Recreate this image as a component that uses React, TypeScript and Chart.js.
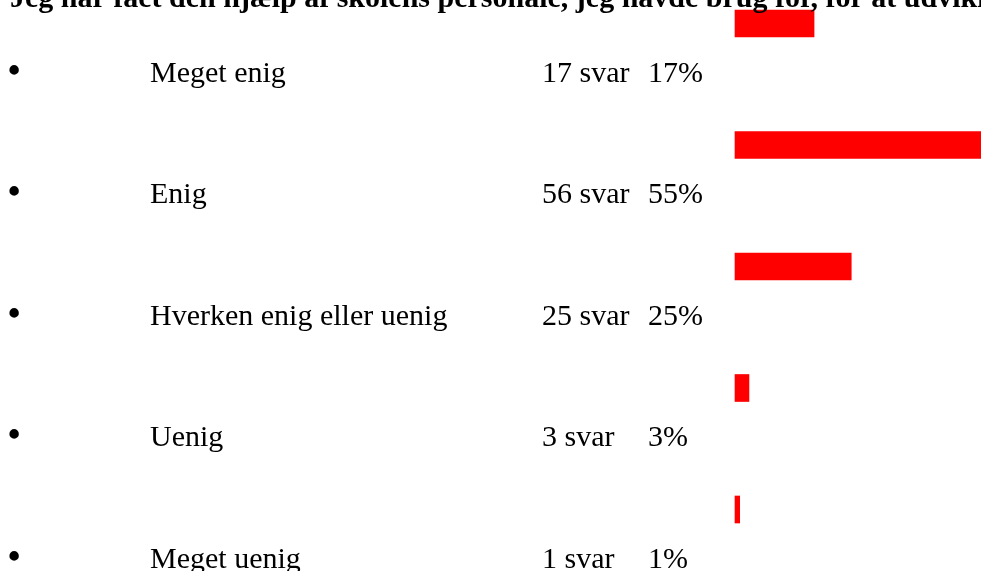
import React, { useEffect, useRef } from "react";
import { Chart, registerables } from "chart.js";

Chart.register(...registerables);

const title = "Jeg har fået den hjælp af skolens personale, jeg havde brug for, for at udvikle mig";
const categories = ["Meget enig", "Enig", "Hverken enig eller uenig", "Uenig", "Meget uenig"];
const counts = [17, 56, 25, 3, 1];
const percents = [17, 55, 25, 3, 1];

const FONT = "'Liberation Serif', 'Times New Roman', Times, serif";

const textPlugin = {
  id: "rowText",
  afterDraw(chart: any) {
    const ctx = chart.ctx as CanvasRenderingContext2D;
    const yScale = chart.scales.y;
    ctx.save();
    ctx.fillStyle = "#000000";
    ctx.textBaseline = "alphabetic";
    ctx.textAlign = "left";
    ctx.font = `bold 30px ${FONT}`;
    ctx.fillText(title, 10, 7);
    categories.forEach((cat, i) => {
      const y = yScale.getPixelForValue(i) + 58;
      ctx.font = `bold 35px ${FONT}`;
      ctx.fillText("•", 8, y);
      ctx.font = `30px ${FONT}`;
      ctx.fillText(cat, 150, y);
      ctx.fillText(`${counts[i]} svar`, 542, y);
      ctx.fillText(`${percents[i]}%`, 648, y);
    });
    ctx.restore();
  },
};

export default function App() {
  const ref = useRef<HTMLCanvasElement | null>(null);
  useEffect(() => {
    if (!ref.current) return;
    const chart = new Chart(ref.current, {
      type: "bar",
      data: {
        labels: categories,
        datasets: [
          {
            data: percents,
            backgroundColor: "#FF0000",
            borderWidth: 0,
            barThickness: 27,
            clip: false as any,
          },
        ],
      },
      options: {
        indexAxis: "y",
        responsive: false,
        animation: false,
        layout: { padding: { left: 735, right: 0, top: 23.5, bottom: 61.5 } },
        plugins: { legend: { display: false }, tooltip: { enabled: false }, title: { display: false } },
        scales: {
          x: { type: "linear", min: 0, max: 100, display: false },
          y: { type: "category", offset: false, display: false },
        },
      },
      plugins: [textPlugin],
    });
    return () => chart.destroy();
  }, []);
  return (
    <div style={{ position: "absolute", left: 0, top: 0, width: 981, height: 571, overflow: "hidden", background: "#fff" }}>
      <canvas ref={ref} width={1200} height={571} style={{ width: 1200, height: 571, display: "block" }} />
    </div>
  );
}
